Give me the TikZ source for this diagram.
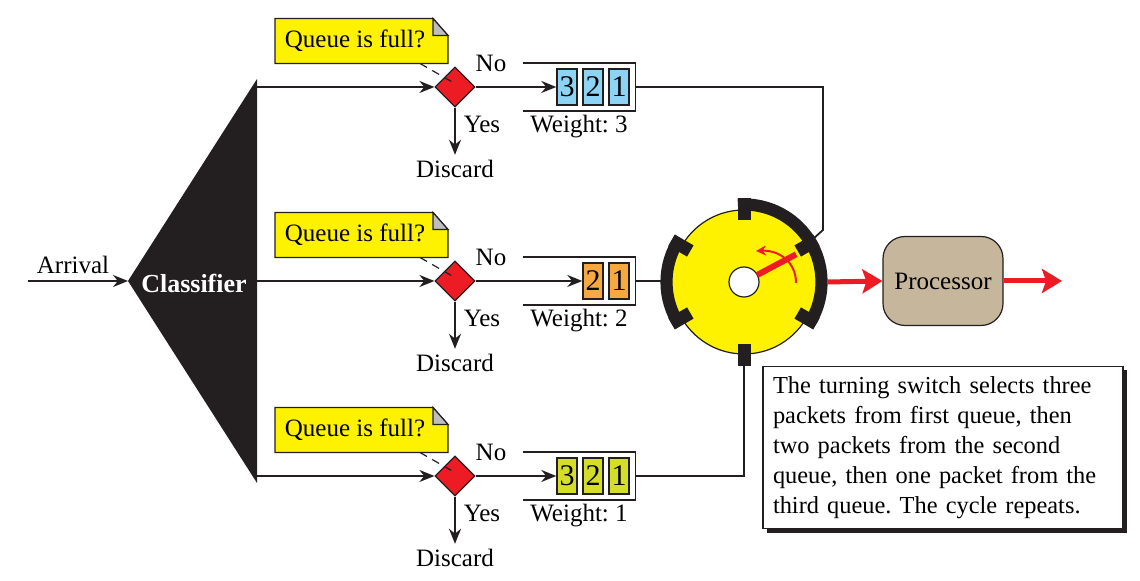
\documentclass[tikz,border=0pt]{standalone}
\usepackage{fontspec}
\setmainfont{Liberation Serif}
\frenchspacing
\usetikzlibrary{positioning,shapes.geometric,arrows.meta,shadows}
\definecolor{ink}{HTML}{231F20}
\definecolor{askyellow}{HTML}{FFF200}
\definecolor{decred}{HTML}{ED1C24}
\definecolor{qblue}{HTML}{8DD3F4}
\definecolor{qorange}{HTML}{F7A941}
\definecolor{qlime}{HTML}{D5DE26}
\definecolor{proctan}{HTML}{C5B69C}
\definecolor{flapgray}{HTML}{BEBEBE}

\begin{document}
\begin{tikzpicture}[x=0.5pt, y=0.5pt, font=\fontsize{12.5}{15}\selectfont,
    line/.style={draw=ink, line width=0.9pt},
    arr/.style={line, -{Stealth[length=7.5pt,width=6pt]}},
    redarr/.style={draw=decred, line width=2.5pt, -{Stealth[length=10pt,width=12pt,inset=2pt]}},
    decide/.style={diamond, draw=ink, fill=decred, line width=0.6pt, minimum width=20pt, minimum height=20pt, inner sep=0pt},
    askbox/.style={fill=askyellow, draw=ink, line width=0.6pt},
    cell/.style={draw=ink, line width=0.7pt, minimum width=10pt, minimum height=18pt, inner sep=0pt, font=\fontsize{15}{16}\selectfont},
    proc/.style={draw=ink, fill=proctan, rounded corners=11pt, line width=0.6pt, minimum width=60pt, minimum height=44.5pt}]
  \useasboundingbox (0,0) rectangle (1140,581);

  % classifier
  \fill[ink] (128,300) coordinate (apex) -- (257,502) -- (257,98) -- cycle;
  \node[text=white, font=\fontsize{13}{15}\selectfont\bfseries] (cls) at (194,298) {Classifier};
  \coordinate (arr) at (28,300);
  \node (arrlbl) at (73,316) {Arrival};
  \draw[arr] (arr) -- (apex);

  % the three queues
  \foreach \k/\yy/\col/\n/\w in {1/494/qblue/3/3, 2/300/qorange/2/2, 3/105/qlime/3/1} {
    \coordinate (out\k) at (257,\yy);
    \coordinate (ac\k) at (355,\yy+46);
    \filldraw[askbox] ([shift={(-80,-22.5)}]ac\k) -- ++(0,45) -- ++(158,0) -- ++(15,-17) -- ++(0,-28) -- cycle;
    \filldraw[askbox, fill=flapgray] ([shift={(78,22.5)}]ac\k) -- ++(0,-17) -- ++(15,0) -- cycle;
    \node (ask\k) at (ac\k) {Queue is full?};
    \node[decide] (d\k) at (455,\yy) {};
    \draw[ink, line width=0.6pt, dash pattern=on 4pt off 3pt] ([shift={(65,-22.5)}]ask\k.center) -- ([shift={(-1,4)}]d\k.center);
    \node[minimum width=56pt, minimum height=23.5pt, inner sep=0pt] (q\k) at (579,\yy) {};
    \draw[line] (q\k.north west) -- (q\k.north east) -- (q\k.south east) -- (q\k.south west);
    \foreach \c in {1,...,\n}
      \node[cell, fill=\col] (c\k-\c) at (645-26*\c,\yy) {\c};
    \draw[arr] (out\k) -- (d\k.west);
    \draw[arr] (d\k.east) -- (c\k-\n.west);
    \node (no\k) at (491,\yy+24) {No};
    \node (yes\k) at (482,\yy-37) {Yes};
    \node[inner sep=2.5pt] (dis\k) at (455,\yy-82) {Discard};
    \draw[arr] (d\k.south) -- (dis\k.north);
    \node (wt\k) at (579,\yy-40) {Weight: \w};
  }

  % turning switch
  \node[circle, draw=ink, fill=askyellow, line width=0.6pt, minimum size=72pt, inner sep=0pt] (wheel) at (744,299) {};
  \coordinate (bend1) at (823,351);
  \coordinate (w1) at ([shift={(32:41pt)}]wheel.center);
  \coordinate (w2) at ([xshift=-5.2pt]wheel.west);
  \coordinate (w3) at ([yshift=-5.2pt]wheel.south);
  \draw[line] (q1.east) -| (bend1) -- (w1);
  \draw[line] (q2.east) -- (q2.east -| w2);
  \draw[line] (q3.east) -| (w3);
  \draw[ink, line width=5.8pt] ([shift={(94.5:38.9pt)}]wheel.center) arc[start angle=94.5, end angle=-34.5, radius=38.9pt];
  \draw[ink, line width=5.8pt] ([shift={(145.5:38.9pt)}]wheel.center) arc[start angle=145.5, end angle=214.5, radius=38.9pt];
  \foreach \a in {30,90,...,330}
    \fill[ink, shift={(wheel.center)}, rotate=\a] (31pt,-3.25pt) rectangle (41.8pt,3.25pt);
  \node[circle, draw=ink, fill=white, line width=0.6pt, minimum size=15pt, inner sep=0pt] (hub) at (wheel.center) {};
  \draw[decred, line width=3pt] ([shift={(28:7.5pt)}]hub.center) -- ([shift={(28:29.5pt)}]hub.center);
  \draw[decred, line width=1pt, -{Stealth[length=5pt,width=5pt]}] ([shift={(26pt,-0.5pt)}]hub.center) .. controls +(0pt,10.5pt) and +(11.5pt,0.5pt) .. ([shift={(6pt,15.5pt)}]hub.center);

  % processor
  \coordinate (wout) at ([xshift=5.4pt]wheel.east);
  \node[proc] (cpu) at (943,300) {Processor};
  \coordinate (done) at (1062,300);
  \draw[redarr] (wout) -- (cpu.west);
  \draw[redarr] (cpu.east) -- (done);

  \node[draw=ink, fill=white, line width=0.7pt, text width=170pt, inner sep=5pt, minimum height=78.5pt, align=left,
        font=\fontsize{12.2}{15}\selectfont, drop shadow={shadow xshift=2pt, shadow yshift=-2pt, fill=ink, opacity=1}] (note) at (943,133.5)
    {The turning switch selects three\\ packets from first queue, then\\ two packets from the second\\ queue, then one packet from the\\ third queue. The cycle repeats.};
\end{tikzpicture}
\end{document}
